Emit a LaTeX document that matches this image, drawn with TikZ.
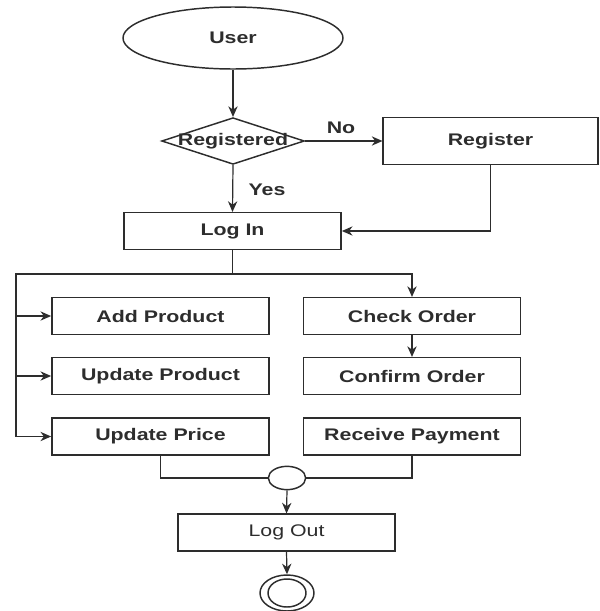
\documentclass[tikz,border=0pt]{standalone}
\usepackage{xcolor}
\usepackage{graphicx}
\usepackage{fontspec}
\setmainfont{Liberation Sans}
\usepackage{tikz}
\usetikzlibrary{shapes.geometric,arrows.meta}

\newcommand{\widetext}[1]{\scalebox{1.27}[1]{#1}}
\definecolor{inkgray}{RGB}{45,45,45}

\tikzset{
  box/.style={draw=inkgray, line width=1.1pt, rectangle, inner sep=0pt, minimum width=163pt, minimum height=27.5pt, text=inkgray, font=\fontsize{12.6}{15}\selectfont\bfseries},
  flow/.style={draw=inkgray, line width=0.9pt, -{Stealth[length=8pt,width=7pt]}},
  wire/.style={draw=inkgray, line width=0.9pt},
  lbl/.style={text=inkgray, inner sep=0pt, font=\fontsize{12.6}{15}\selectfont\bfseries}
}

\begin{document}
\begin{tikzpicture}[x=0.75pt,y=0.75pt,yscale=-1,xscale=1]
\useasboundingbox (0,0) rectangle (600,611);

%Shape: Ellipse [start]
\node[box, ellipse, minimum width=165pt, minimum height=46.5pt] (user) at (233,38) {\widetext{User}};
%Shape: Diamond [decision]
\node[draw=inkgray, line width=1.1pt, diamond, inner sep=0pt, minimum width=107pt, minimum height=35pt, label={[lbl]center:\widetext{Registered}}] (registered) at (233,141) {};
%Shape: Rectangle
\node[box, minimum width=161pt, minimum height=35pt] (register) at (490.5,141) {\widetext{Register}};
%Shape: Rectangle
\node[box] (login) at (232.5,231) {\widetext{Log In}};

%Shape: Rectangle [left column]
\node[box] (addproduct) at (160.5,316) {\widetext{Add Product}};
\node[box] (updateproduct) at (160.5,376) {\widetext{Update Product}};
\node[box] (updateprice) at (160.5,436.5) {\widetext{Update Price}};
%Shape: Rectangle [right column]
\node[box] (checkorder) at (412,316) {\widetext{Check Order}};
\node[box] (confirmorder) at (412,376) {\widetext{Confirm Order}};
\node[box] (receivepayment) at (412,436.5) {\widetext{Receive Payment}};

%Shape: Ellipse [join]
\node[draw=inkgray, line width=1.1pt, ellipse, inner sep=0pt, minimum width=28pt, minimum height=17.5pt] (join) at (287,478) {};
%Shape: Rectangle
\node[box, font=\fontsize{12.6}{15}\selectfont] (logout) at (286.5,532.5) {\widetext{Log Out}};
%Shape: Ellipse [end]
\node[draw=inkgray, line width=1.1pt, ellipse, inner sep=0pt, minimum width=40.5pt, minimum height=27pt] (finish) at (287,593) {};
\node[draw=inkgray, line width=1.1pt, ellipse, inner sep=0pt, minimum width=28.5pt, minimum height=21pt] at (finish) {};

%Straight Lines
\draw[flow] (user.south) -- (registered.north);
\draw[flow] (registered.east) -- (register.west);
\draw[flow] (registered.south) -- (login.north);
\draw[flow] (register.south) |- (login.east);

\coordinate (railtop) at (16,274);
\draw[wire] (login.south) -- (login.south |- railtop);
\draw[flow] (login.south |- railtop) -| (checkorder.north);
\draw[flow] (login.south |- railtop) -- (railtop) |- (updateprice.west);
\draw[flow] (railtop |- addproduct.west) -- (addproduct.west);
\draw[flow] (railtop |- updateproduct.west) -- (updateproduct.west);
\draw[flow] (checkorder.south) -- (confirmorder.north);

\draw[wire] (updateprice.south) |- (join.west);
\draw[wire] (receivepayment.south) |- (join.east);
\draw[flow] (join.south) -- (logout.north);
\draw[flow] (logout.south) -- (finish.north);

% Text Node
\node[lbl] (nolabel) at (341,128) {\widetext{No}};
% Text Node
\node[lbl] (yeslabel) at (267,190) {\widetext{Yes}};

\end{tikzpicture}
\end{document}
